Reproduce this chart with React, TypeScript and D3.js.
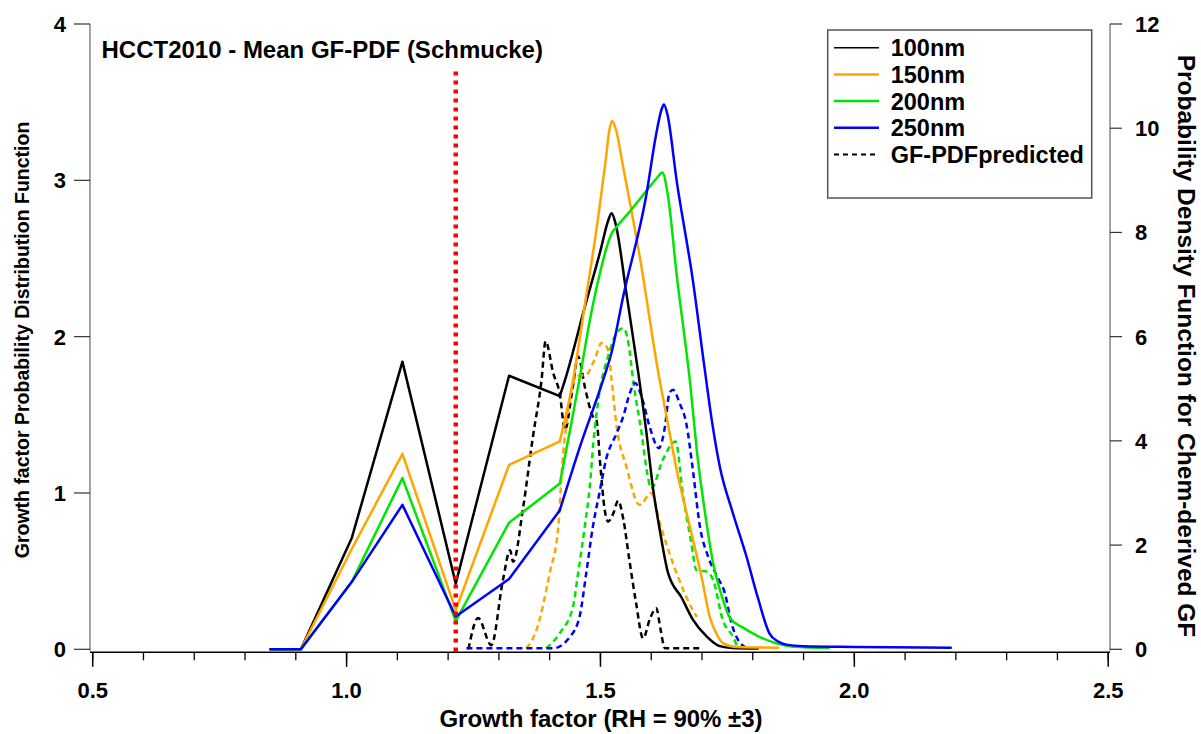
import React from "react";
import * as d3 from "d3";

// ---- data ----
const xTicks = [0.5, 1.0, 1.5, 2.0, 2.5];
const xMinorTicks = d3.range(5, 26).map((d) => d / 10);
const yLeftTicks = [0, 1, 2, 3, 4];
const yRightTicks = [0, 2, 4, 6, 8, 10, 12];

const legendLabels = ["100nm", "150nm", "200nm", "250nm", "GF-PDFpredicted"];
const sizeColors = ["#000000", "#FFA500", "#00E600", "#0000FF"];

const pdf100: [number, number][] = [
  [0.85, 0], [0.91, 0], [1.01, 0.71], [1.11, 1.84], [1.215, 0.42], [1.32, 1.75], [1.42, 1.62],
  [1.43, 1.72], [1.47, 2.2], [1.5, 2.55], [1.515, 2.74], [1.522, 2.79], [1.53, 2.72], [1.551, 2.28],
  [1.574, 1.78], [1.59, 1.4], [1.604, 1.02], [1.617, 0.76], [1.633, 0.49], [1.66, 0.33],
  [1.682, 0.19], [1.71, 0.08], [1.735, 0.02], [1.76, 0.008], [1.81, 0.005],
];
const pdf150: [number, number][] = [
  [0.85, 0], [0.91, 0], [1.01, 0.64], [1.11, 1.25], [1.215, 0.25], [1.32, 1.18], [1.42, 1.33],
  [1.446, 1.72], [1.47, 2.22], [1.495, 2.75], [1.51, 3.12], [1.518, 3.33], [1.523, 3.38],
  [1.53, 3.33], [1.545, 3.08], [1.578, 2.5], [1.615, 1.75], [1.629, 1.51], [1.65, 1.15],
  [1.676, 0.785], [1.7, 0.45], [1.715, 0.21], [1.73, 0.09], [1.741, 0.04], [1.77, 0.015], [1.85, 0.01],
];
const pdf200: [number, number][] = [
  [0.85, 0], [0.91, 0], [1.01, 0.43], [1.11, 1.095], [1.215, 0.18], [1.32, 0.81], [1.42, 1.06],
  [1.44, 1.4], [1.46, 1.75], [1.48, 2.12], [1.5, 2.42], [1.515, 2.6], [1.522, 2.66], [1.53, 2.695],
  [1.555, 2.79], [1.585, 2.91], [1.61, 3.01], [1.622, 3.05],
  [1.633, 2.9], [1.65, 2.4], [1.676, 1.72], [1.692, 1.21], [1.707, 0.85], [1.722, 0.55],
  [1.74, 0.33], [1.755, 0.2], [1.78, 0.14], [1.813, 0.08], [1.85, 0.035], [1.88, 0.017], [1.95, 0.01],
];
const pdf250: [number, number][] = [
  [0.85, 0], [0.91, 0], [1.01, 0.43], [1.11, 0.924], [1.215, 0.21], [1.32, 0.45], [1.42, 0.89],
  [1.46, 1.3], [1.505, 1.72], [1.522, 1.9], [1.545, 2.26], [1.59, 2.9], [1.61, 3.3], [1.62, 3.45],
  [1.625, 3.485], [1.632, 3.42], [1.65, 3.0], [1.682, 2.36], [1.705, 1.8], [1.72, 1.45],
  [1.735, 1.17], [1.76, 0.88], [1.787, 0.6], [1.81, 0.33], [1.833, 0.1], [1.85, 0.05],
  [1.866, 0.03], [1.9, 0.02], [2.0, 0.015], [2.19, 0.01],
];

const pred100: [number, number][] = [
  [1.24, 0], [1.259, 0.6], [1.285, 0.08], [1.308, 1.33], [1.322, 1.9], [1.328, 1.68], [1.348, 2.74],
  [1.367, 4.08], [1.384, 5.17], [1.392, 5.91], [1.407, 5.3], [1.42, 4.9], [1.43, 4.21], [1.445, 5.0],
  [1.456, 5.62], [1.47, 5.0], [1.485, 4.47], [1.492, 4.4], [1.5, 3.5], [1.508, 2.7], [1.515, 2.45],
  [1.525, 2.6], [1.535, 2.85], [1.545, 2.5], [1.557, 1.71], [1.57, 0.9], [1.584, 0.21], [1.598, 0.6],
  [1.61, 0.79], [1.618, 0.4], [1.627, 0.02], [1.696, 0.02],
];
const pred150: [number, number][] = [
  [1.354, 0.02], [1.374, 0.37], [1.4, 1.46], [1.417, 2.35], [1.424, 3.44], [1.434, 4.4],
  [1.453, 5.24], [1.472, 5.27], [1.49, 5.6], [1.502, 5.88], [1.515, 5.75], [1.522, 5.17],
  [1.532, 4.27], [1.551, 3.51], [1.577, 2.77], [1.6, 3.0], [1.617, 2.42], [1.65, 1.46],
  [1.682, 0.75], [1.69, 0.62],
];
const pred200: [number, number][] = [
  [1.393, 0.02], [1.42, 0.31], [1.446, 0.82], [1.456, 1.46], [1.469, 2.35], [1.479, 3.12],
  [1.486, 3.96], [1.498, 4.92], [1.515, 5.62], [1.532, 6.07], [1.545, 6.16], [1.555, 5.88],
  [1.565, 5.11], [1.581, 4.15], [1.591, 3.44], [1.6, 3.09], [1.623, 3.64], [1.648, 3.99],
  [1.662, 3.0], [1.679, 2.04], [1.689, 1.52], [1.709, 1.49], [1.722, 1.33], [1.741, 0.56],
  [1.761, 0.24], [1.771, 0.02],
];
const pred250: [number, number][] = [
  [1.236, 0.02], [1.407, 0.02], [1.44, 0.24], [1.459, 0.63], [1.472, 1.46], [1.485, 2.35],
  [1.498, 3.0], [1.511, 3.64], [1.532, 4.15], [1.545, 4.47], [1.558, 4.92], [1.568, 5.11],
  [1.581, 4.85], [1.597, 4.27], [1.615, 3.86], [1.627, 4.27], [1.636, 4.92], [1.643, 4.98],
  [1.656, 4.72], [1.669, 4.34], [1.682, 3.44], [1.696, 2.35], [1.712, 1.78], [1.732, 1.36],
  [1.745, 1.08], [1.758, 0.5], [1.771, 0.18], [1.784, 0.05],
];

const measuredSeries = [pdf100, pdf150, pdf200, pdf250];
const predictedSeries = [pred100, pred150, pred200, pred250];
const dryGF = 1.215;
const smoothFrom = 1.42; // measured curves are piecewise-linear below, smooth above

const title = "HCCT2010 - Mean GF-PDF (Schmucke)";
const xTitle = "Growth factor (RH = 90% \u00B13)";
const yLeftTitle = "Growth factor Probability Distribution Function";
const yRightTitle = "Probability Density Function for Chem-derived GF";

export default function App() {
  const W = 1201;
  const H = 734;
  const axL = 90;
  const axR = 1110;
  const axTop = 24;
  const yZero = 649.3;
  const xAxisY = 652.3;

  const x = d3.scaleLinear().domain([0.5, 2.5]).range([92.7, 1108.2]);
  const yL = d3.scaleLinear().domain([0, 4]).range([yZero, axTop]);
  const yR = d3.scaleLinear().domain([0, 12]).range([yZero, axTop]);

  const lineL = d3.line<[number, number]>().x((d) => x(d[0])).y((d) => yL(d[1]));
  const lineLSmooth = d3
    .line<[number, number]>()
    .x((d) => x(d[0]))
    .y((d) => yL(d[1]))
    .curve(d3.curveMonotoneX);
  const lineR = d3
    .line<[number, number]>()
    .x((d) => x(d[0]))
    .y((d) => yR(d[1]))
    .curve(d3.curveMonotoneX);

  const font = "'Liberation Sans', Arial, sans-serif";
  const legendRowY = (i: number) => 47.7 + i * 26.7;

  return (
    <svg
      width={W}
      height={H}
      style={{ position: "absolute", left: 0, top: 0, background: "#fff" }}
      fontFamily={font}
      fontWeight="bold"
    >
      <rect x={0} y={0} width={W} height={H} fill="#fff" />

      {/* predicted dashed (right axis) */}
      {predictedSeries.map((s, i) => (
        <path
          key={"p" + i}
          d={lineR(s) || ""}
          fill="none"
          stroke={sizeColors[i]}
          strokeWidth={2.5}
          strokeDasharray="6 4"
        />
      ))}

      {/* measured solid (left axis) */}
      {measuredSeries.map((s, i) => (
        <g key={"m" + i} fill="none" stroke={sizeColors[i]} strokeWidth={2.5} strokeLinejoin="round" strokeLinecap="round">
          <path d={lineL(s.filter((d) => d[0] <= smoothFrom)) || ""} />
          <path d={lineLSmooth(s.filter((d) => d[0] >= smoothFrom)) || ""} />
        </g>
      ))}

      {/* dry GF marker */}
      <line
        x1={x(dryGF)}
        x2={x(dryGF)}
        y1={71.5}
        y2={xAxisY}
        stroke="#ff0000"
        strokeWidth={4.5}
        strokeDasharray="4 5"
      />

      {/* left axis */}
      <line x1={axL} x2={axL} y1={axTop} y2={xAxisY - 1.5} stroke="#666" strokeWidth={1.2} />
      {yLeftTicks.map((t) => (
        <g key={"yl" + t}>
          <line x1={74} x2={axL} y1={yL(t)} y2={yL(t)} stroke="#333" strokeWidth={1.2} />
          <text x={66} y={yL(t)} dy="0.36em" textAnchor="end" fontSize={22}>
            {t}
          </text>
        </g>
      ))}

      {/* right axis */}
      <line x1={axR} x2={axR} y1={axTop} y2={xAxisY - 1.5} stroke="#666" strokeWidth={1.2} />
      {yRightTicks.map((t) => (
        <g key={"yr" + t}>
          <line x1={axR} x2={1122} y1={yR(t)} y2={yR(t)} stroke="#333" strokeWidth={1.2} />
          <text x={1135} y={yR(t)} dy="0.36em" textAnchor="start" fontSize={22}>
            {t}
          </text>
        </g>
      ))}

      {/* bottom axis */}
      <line x1={axL} x2={axR} y1={xAxisY} y2={xAxisY} stroke="#000" strokeWidth={1.5} />
      {xMinorTicks.map((t) => (
        <line key={"xm" + t} x1={x(t)} x2={x(t)} y1={xAxisY} y2={xAxisY + 8} stroke="#000" strokeWidth={1.3} />
      ))}
      {xTicks.map((t) => (
        <g key={"xt" + t}>
          <line x1={x(t)} x2={x(t)} y1={xAxisY} y2={xAxisY + 14.5} stroke="#000" strokeWidth={1.5} />
          <text x={x(t)} y={690} dy="0.36em" textAnchor="middle" fontSize={22}>
            {d3.format(".1f")(t)}
          </text>
        </g>
      ))}

      {/* axis titles */}
      <text x={601} y={718} dy="0.36em" textAnchor="middle" fontSize={24}>
        {xTitle}
      </text>
      <text
        transform={`translate(22, 340) rotate(-90)`}
        dy="0.36em"
        textAnchor="middle"
        fontSize={19.5}
      >
        {yLeftTitle}
      </text>
      <text
        transform={`translate(1187, 346) rotate(90)`}
        dy="0.36em"
        textAnchor="middle"
        fontSize={24.5}
      >
        {yRightTitle}
      </text>

      {/* chart title */}
      <text x={101.5} y={57.8} fontSize={24}>
        {title}
      </text>

      {/* legend */}
      <rect x={827.7} y={30} width={264} height={168} fill="#fff" stroke="#555" strokeWidth={1.5} />
      {legendLabels.map((lab, i) => (
        <g key={"lg" + i}>
          <line
            x1={834}
            x2={879}
            y1={legendRowY(i)}
            y2={legendRowY(i)}
            stroke={i < 4 ? sizeColors[i] : "#000"}
            strokeWidth={i === 0 ? 1.5 : i < 4 ? 2.5 : 2}
            strokeDasharray={i === 4 ? "5 4" : undefined}
          />
          <text x={890.7} y={legendRowY(i)} dy="0.36em" fontSize={23.5}>
            {lab}
          </text>
        </g>
      ))}
    </svg>
  );
}
